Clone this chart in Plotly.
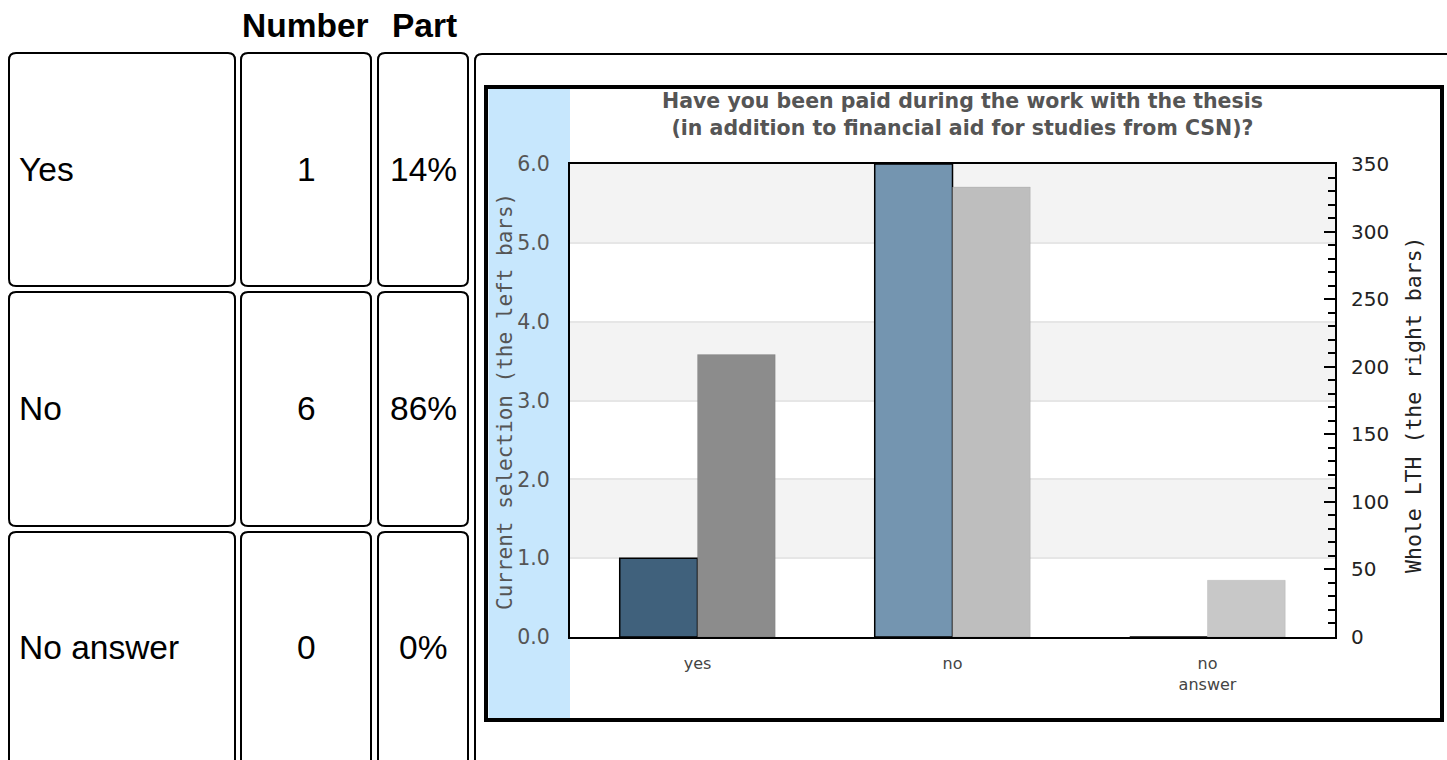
import plotly.graph_objects as go

# ---------------- data ----------------
categories = ["yes", "no", "no<br>answer"]
selection_values = [1, 6, 0]          # left bars (current selection)
whole_lth_values = [209, 333, 42]     # right bars (whole LTH)
left_colors = ["#40617c", "#7495b0", "#7495b0"]
right_colors = ["#8c8c8c", "#bebebe", "#c8c8c8"]

table_labels = ["Yes", "No", "No answer"]
table_numbers = ["1", "6", "0"]
table_parts = ["14%", "86%", "0%"]
table_headers = ["Number", "Part"]

left_ticks = [0, 1, 2, 3, 4, 5, 6]
left_ticktext = ["0.0", "1.0", "2.0", "3.0", "4.0", "5.0", "6.0"]

title_lines = ["Have you been paid during the work with the thesis",
               "(in addition to financial aid for studies from CSN)?"]

W, H = 1447, 760


def px(x):
    return x / W


def py(y):
    return 1 - y / H


def rrect(x0, y0, x1, y1, r):
    pts = (f"M {px(x0 + r)},{py(y0)} L {px(x1 - r)},{py(y0)} "
           f"Q {px(x1)},{py(y0)} {px(x1)},{py(y0 + r)} "
           f"L {px(x1)},{py(y1 - r)} Q {px(x1)},{py(y1)} {px(x1 - r)},{py(y1)} "
           f"L {px(x0 + r)},{py(y1)} Q {px(x0)},{py(y1)} {px(x0)},{py(y1 - r)} "
           f"L {px(x0)},{py(y0 + r)} Q {px(x0)},{py(y0)} {px(x0 + r)},{py(y0)} Z")
    return dict(type="path", path=pts, xref="paper", yref="paper",
                line=dict(color="black", width=2), layer="below")


fig = go.Figure()

xs = list(range(len(categories)))
fig.add_trace(go.Bar(
    x=xs, y=selection_values, width=0.305, offset=-0.305,
    marker=dict(color=left_colors, line=dict(color="black", width=1.5)),
    yaxis="y", showlegend=False, hoverinfo="skip"))
fig.add_trace(go.Bar(
    x=xs, y=whole_lth_values, width=0.305, offset=0,
    marker=dict(color=right_colors, line=dict(color="rgba(0,0,0,0.08)", width=1)),
    yaxis="y2", showlegend=False, hoverinfo="skip"))

shapes = []
# table cells
col_x = [(9, 235), (241, 371), (378, 468)]
row_y = [(53, 286), (292, 526), (532, 800)]
for (ya, yb) in row_y:
    for (xa, xb) in col_x:
        shapes.append(rrect(xa, ya, xb, yb, 7))
# outer cell containing the chart
shapes.append(rrect(475, 54, 1480, 800, 7))
# chart frame
shapes.append(dict(type="rect", xref="paper", yref="paper",
                   x0=px(486), x1=px(1442), y0=py(87), y1=py(720),
                   fillcolor="white", line=dict(color="black", width=4), layer="below"))
shapes.append(dict(type="rect", xref="paper", yref="paper",
                   x0=px(488.5), x1=px(570), y0=py(89), y1=py(718),
                   fillcolor="#c7e7fd", line=dict(width=0), layer="below"))
# alternating bands
for lo in [1, 3, 5]:
    shapes.append(dict(type="rect", xref="x domain", yref="y", x0=0, x1=1,
                       y0=lo, y1=lo + 1, fillcolor="#f3f3f3",
                       line=dict(width=0), layer="below"))

annotations = []
cell_font = dict(family="Liberation Sans, Arial, sans-serif", size=33.5, color="black")
for i, (ya, yb) in enumerate(row_y[:2] + [(532, 762)]):
    yc = py((ya + yb) / 2)
    annotations.append(dict(x=px(17), y=yc, xref="paper", yref="paper",
                            text=table_labels[i], showarrow=False,
                            xanchor="left", yanchor="middle", font=cell_font))
    annotations.append(dict(x=px(306), y=yc, xref="paper", yref="paper",
                            text=table_numbers[i], showarrow=False,
                            xanchor="center", yanchor="middle", font=cell_font))
    annotations.append(dict(x=px(423), y=yc, xref="paper", yref="paper",
                            text=table_parts[i], showarrow=False,
                            xanchor="center", yanchor="middle", font=cell_font))
head_font = dict(family="Liberation Sans, Arial, sans-serif", size=33.5, color="black")
for hx, ht in zip([305, 424], table_headers):
    annotations.append(dict(x=px(hx), y=py(26), xref="paper", yref="paper",
                            text=f"<b>{ht}</b>", showarrow=False,
                            xanchor="center", yanchor="middle", font=head_font))

title_font = dict(family="DejaVu Sans", size=20.5, color="#555555")
annotations.append(dict(x=px(962), y=py(115), xref="paper", yref="paper",
                        text="<b>" + "<br>".join(title_lines) + "</b>",
                        showarrow=False, align="center",
                        xanchor="center", yanchor="middle", font=title_font))

annotations.append(dict(x=px(505), y=py(402), xref="paper", yref="paper",
                        text="Current selection (the left bars)", textangle=-90,
                        showarrow=False, xanchor="center", yanchor="middle",
                        font=dict(family="DejaVu Sans Mono", size=21, color="#555555")))
annotations.append(dict(x=px(1413), y=py(405), xref="paper", yref="paper",
                        text="Whole LTH (the right bars)", textangle=-90,
                        showarrow=False, xanchor="center", yanchor="middle",
                        font=dict(family="DejaVu Sans Mono", size=21.5, color="#222222")))

fig.update_layout(
    width=W, height=H, autosize=False,
    margin=dict(l=0, r=0, t=0, b=0, autoexpand=False),
    paper_bgcolor="white", plot_bgcolor="white",
    barmode="overlay",
    shapes=shapes, annotations=annotations,
    xaxis=dict(domain=[px(570), px(1335)], range=[-0.5, 2.5],
               tickvals=xs, ticktext=categories, ticks="",
               showline=True, mirror=True, linecolor="black", linewidth=2,
               showgrid=False, zeroline=False, fixedrange=True, automargin=False,
               ticklabelstandoff=11,
               tickfont=dict(family="DejaVu Sans", size=16, color="#444444")),
    yaxis=dict(domain=[py(637), py(164)], range=[0, 6],
               tickvals=left_ticks, ticktext=left_ticktext, ticks="",
               showline=True, mirror=True, linecolor="black", linewidth=2,
               showgrid=True, gridcolor="#e6e6e6", gridwidth=2, zeroline=False,
               ticklabelstandoff=14, automargin=False,
               tickfont=dict(family="DejaVu Sans", size=20.5, color="#555555")),
    yaxis2=dict(overlaying="y", side="right", anchor="x", range=[0, 350],
                dtick=50, tick0=0, ticks="inside", ticklen=11, tickwidth=2,
                tickcolor="black", showgrid=False, zeroline=False, automargin=False,
                minor=dict(dtick=10, ticks="inside", ticklen=7, tickwidth=2,
                           tickcolor="black", showgrid=False),
                ticklabelstandoff=15,
                tickfont=dict(family="DejaVu Sans", size=20, color="#222222")),
)

fig.write_html(
    "out.html",
    config={"displayModeBar": False},
    post_script="document.body.style.margin='0';document.body.style.overflow='hidden';",
)
